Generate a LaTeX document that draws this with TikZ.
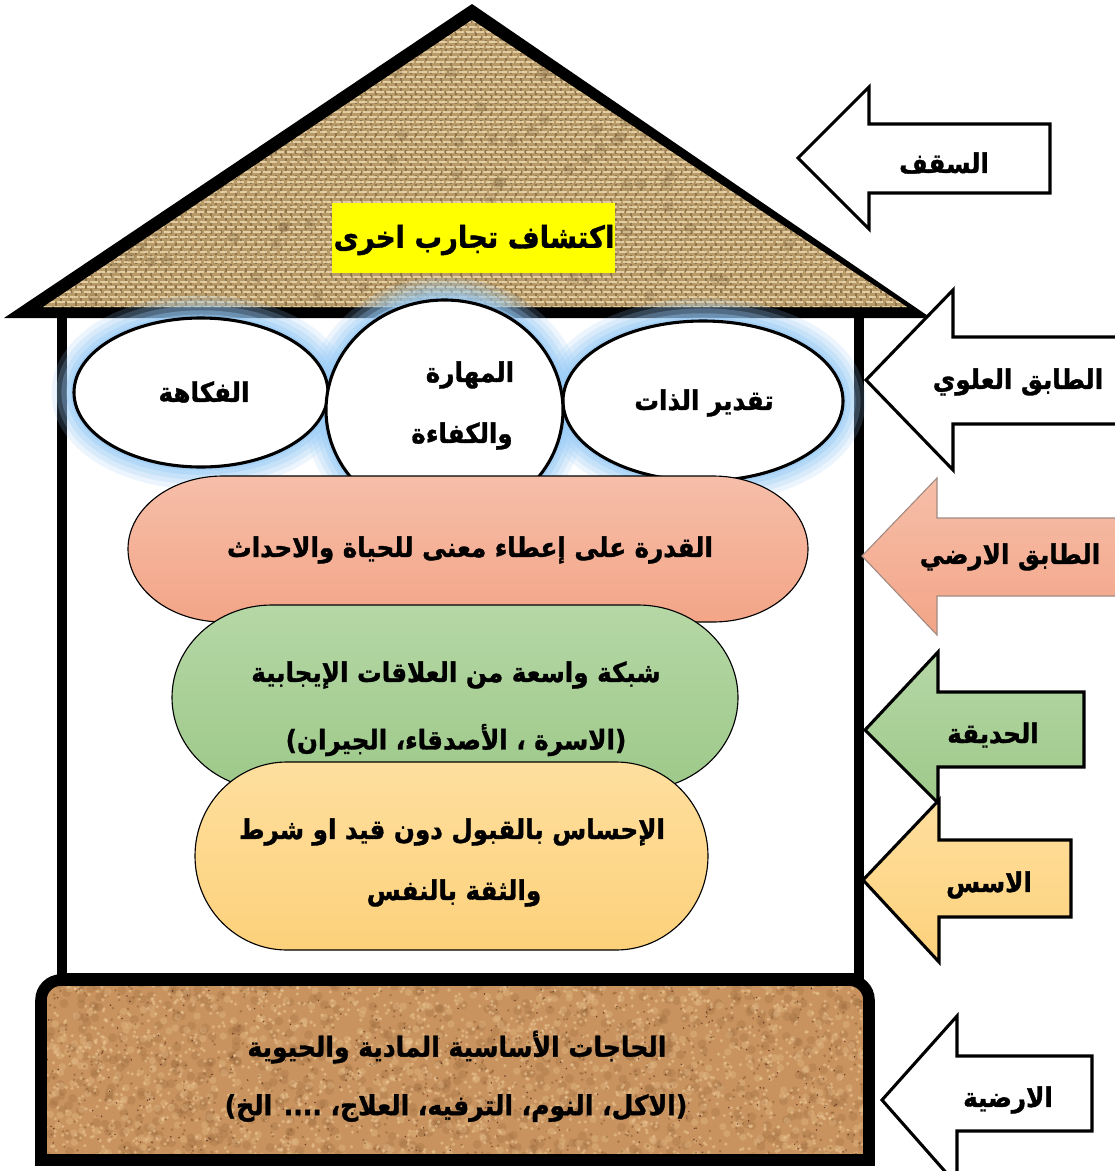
\documentclass[tikz,border=0pt]{standalone}
\usepackage{fontspec}
\newfontfamily\arfont[Script=Arabic, BoldFeatures={FakeBold=1.3}]{DejaVu Sans}
\TeXXeTstate=1

\definecolor{burlap}{HTML}{B89A68}
\definecolor{burlaplight}{HTML}{EEDDB2}
\definecolor{burlapdark}{HTML}{6E5434}
\definecolor{cork}{HTML}{C8935E}
\definecolor{corklight}{HTML}{EDC896}
\definecolor{corkdark}{HTML}{8A5A32}
\definecolor{corkdeep}{HTML}{55291A}
\definecolor{glow}{HTML}{98CBF7}
\definecolor{salmontop}{HTML}{F6BEA9}
\definecolor{salmonbot}{HTML}{F3A587}
\definecolor{greentop}{HTML}{B5D7A5}
\definecolor{greenbot}{HTML}{9EC98A}
\definecolor{yellowtop}{HTML}{FEDF9E}
\definecolor{yellowbot}{HTML}{FDD17B}
\definecolor{signyellow}{HTML}{FFFF00}

% left-pointing block arrow: style, tip x, tip y, head x, head top, head bottom, shaft top, shaft bottom, tail x
\newcommand{\blockarrow}[9]{%
  \draw[#1] (#2,#3) -- (#4,#5) -- (#4,#7) -- (#9,#7) -- (#9,#8) -- (#4,#8) -- (#4,#6) -- cycle;}
% rounded bar with half-elliptic ends: style, left, top, right, bottom, end depth
\newcommand{\roundbar}[6]{%
  \pgfmathsetmacro{\ym}{(#3+#5)/2}%
  \pgfmathsetmacro{\ry}{(#5-#3)/2}%
  \pgfmathsetmacro{\la}{#2+#6}%
  \pgfmathsetmacro{\ra}{#4-#6}%
  \pgfmathsetmacro{\lc}{#2+#6*0.448}%
  \pgfmathsetmacro{\rc}{#4-#6*0.448}%
  \pgfmathsetmacro{\yu}{\ym-\ry*0.552}%
  \pgfmathsetmacro{\yd}{\ym+\ry*0.552}%
  \draw[#1] (\la,#3) -- (\ra,#3) .. controls (\rc,#3) and (#4,\yu) .. (#4,\ym)
    .. controls (#4,\yd) and (\rc,#5) .. (\ra,#5) -- (\la,#5)
    .. controls (\lc,#5) and (#2,\yd) .. (#2,\ym)
    .. controls (#2,\yu) and (\lc,#3) .. (\la,#3) -- cycle;}
% Arabic text, slightly stretched upward
\newcommand{\artext}[1]{\scalebox{1}[1.1]{\beginR #1\endR}}

\begin{document}
\begin{tikzpicture}[x=0.025cm,y=-0.025cm,
  txt/.style={font=\arfont\bfseries\fontsize{17.5}{20}\selectfont, inner sep=0pt, text=black},
  bigtxt/.style={font=\arfont\bfseries\fontsize{19.5}{22}\selectfont, inner sep=0pt, text=black},
  slabtxt/.style={font=\arfont\bfseries\fontsize{17.8}{21}\selectfont, inner sep=0pt, text=black},
  outline/.style={draw=black, line width=2.2pt, line join=miter},
  pill/.style={draw=black, line width=0.8pt},
  oval/.style={draw=black, line width=2.2pt, fill=white}]

\clip (0,0) rectangle (1115,1171);
\fill[white] (0,0) rectangle (1115,1171);

% ---------- walls ----------
\draw[line width=7.8pt] (62,312) rectangle (859,978);

% ---------- roof ----------
\fill[black] (472,4) -- (931,318) -- (4,318) -- cycle;
\begin{scope}
  \clip (472,20) -- (907,307) -- (43,307) -- cycle;
  \fill[burlap] (40,15) rectangle (910,310);
  \foreach \x [count=\i] in {41,46,...,910} {
    \pgfmathsetmacro{\ph}{mod(\i,2)*3}
    \draw[burlapdark, line width=0.9pt, opacity=.55, dash pattern=on 3pt off 3pt, dash phase=\ph pt] (\x,15) -- (\x,310);
  }
  \foreach \y [count=\i] in {17,22,...,308} {
    \pgfmathsetmacro{\ph}{mod(\i,3)*2.2}
    \draw[burlaplight, line width=1.5pt, opacity=.8, dash pattern=on 5.5pt off 1.6pt, dash phase=\ph pt] (40,\y) -- (910,\y);
  }
  \pgfmathsetseed{77}
  \foreach \i in {1,...,160} {
    \pgfmathsetmacro{\ax}{40+870*rnd}
    \pgfmathsetmacro{\ay}{15+295*rnd}
    \fill[burlapdark, opacity=.18] (\ax,\ay) circle (4pt);
  }
\end{scope}

% ---------- caption in the roof ----------
\node[fill=signyellow, minimum width=7.08cm, minimum height=1.76cm, inner sep=0pt] (sign) at (473.5,238) {};
\node[bigtxt] (signtxt) at (474,240) {\artext{اكتشاف تجارب اخرى}};

% ---------- soft blue halo behind the upper floor ----------
\foreach \w/\o in {32/0.18, 25/0.22, 18/0.28, 11/0.38, 5/0.5} {
  \draw[glow, line width=\w pt, opacity=\o] (201,392.5) ellipse [x radius=127, y radius=74.5];
  \draw[glow, line width=\w pt, opacity=\o] (703,401) ellipse [x radius=140, y radius=80];
  \draw[glow, line width=\w pt, opacity=\o] (444.5,410) ellipse [x radius=118.5, y radius=110];
}

% ---------- upper floor ----------
\draw[oval] (201,392.5) ellipse [x radius=127, y radius=74.5];
\draw[oval] (703,401) ellipse [x radius=140, y radius=80];
\draw[oval] (444.5,410) ellipse [x radius=118.5, y radius=110];
\node[txt] (humor) at (204,392) {\artext{الفكاهة}};
\node[txt] (skill1) at (470,375) {\artext{المهارة}};
\node[txt] (skill2) at (462,436) {\artext{والكفاءة}};
\node[txt] (esteem) at (704,403) {\artext{تقدير الذات}};

% ---------- ground floor ----------
\roundbar{pill, top color=salmontop, bottom color=salmonbot}{128}{476}{808}{622}{95}
\node[txt] (meaning) at (470,550) {\artext{القدرة على إعطاء معنى للحياة والاحداث}};

% ---------- garden ----------
\roundbar{pill, top color=greentop, bottom color=greenbot}{172}{605}{738}{790}{100}
\node[txt] (net1) at (456,675) {\artext{شبكة واسعة من العلاقات الإيجابية}};
\node[txt] (net2) at (456,740) {\artext{(الاسرة ، الأصدقاء، الجيران)}};

% ---------- foundations ----------
\roundbar{pill, top color=yellowtop, bottom color=yellowbot}{195}{762}{708}{950}{92}
\node[txt] (accept1) at (452,832) {\artext{الإحساس بالقبول دون قيد او شرط}};
\node[txt] (accept2) at (454,893) {\artext{والثقة بالنفس}};

% ---------- ground slab ----------
\begin{scope}
  \clip (41,1160) -- (41,1000) .. controls (41,989) and (50,980) .. (61,980)
        -- (849,980) .. controls (860,980) and (869,989) .. (869,1000) -- (869,1160) -- cycle;
  \fill[cork] (30,970) rectangle (880,1170);
  \pgfmathsetseed{4242}
  \foreach \i in {1,...,700} {
    \pgfmathsetmacro{\ax}{41+828*rnd}
    \pgfmathsetmacro{\ay}{980+180*rnd}
    \fill[corkdark, opacity=.2] (\ax,\ay) circle (3.2pt);
  }
  \foreach \i in {1,...,600} {
    \pgfmathsetmacro{\ax}{41+828*rnd}
    \pgfmathsetmacro{\ay}{980+180*rnd}
    \fill[corklight, opacity=.3] (\ax,\ay) circle (2.6pt);
  }
  \foreach \i in {1,...,1600} {
    \pgfmathsetmacro{\ax}{41+828*rnd}
    \pgfmathsetmacro{\ay}{980+180*rnd}
    \fill[corklight, opacity=.55] (\ax,\ay) circle (1.3pt);
  }
  \foreach \i in {1,...,700} {
    \pgfmathsetmacro{\ax}{41+828*rnd}
    \pgfmathsetmacro{\ay}{980+180*rnd}
    \fill[corkdark, opacity=.5] (\ax,\ay) circle (1pt);
  }
  \foreach \i in {1,...,250} {
    \pgfmathsetmacro{\ax}{41+828*rnd}
    \pgfmathsetmacro{\ay}{980+180*rnd}
    \fill[corkdeep, opacity=.8] (\ax,\ay) circle (0.6pt);
  }
\end{scope}
\draw[line width=8.2pt] (41,1160) -- (41,1000) .. controls (41,989) and (50,980) .. (61,980)
      -- (849,980) .. controls (860,980) and (869,989) .. (869,1000) -- (869,1160) -- cycle;
\node[slabtxt] (needs1) at (457,1047) {\artext{الحاجات الأساسية المادية والحيوية}};
\node[slabtxt] (needs2) at (456,1108) {\artext{(الاكل، النوم، الترفيه، العلاج، .... الخ)}};

% ---------- labels on the right ----------
\blockarrow{outline, fill=white}{798}{158}{869}{87}{229}{124}{193}{1050}
\node[txt] (roofl) at (944,163) {\artext{السقف}};

\blockarrow{outline, fill=white}{866}{380}{953}{290}{470}{337}{424}{1130}
\node[txt] (upperl) at (1018,382) {\artext{الطابق العلوي}};

\blockarrow{draw=gray!70!salmonbot, line width=0.8pt, top color=salmontop, bottom color=salmonbot}{862}{556}{937}{478}{635}{518}{596}{1130}
\node[txt] (groundl) at (1010,557) {\artext{الطابق الارضي}};

\blockarrow{outline, top color=greentop, bottom color=greenbot}{865}{730}{938}{652}{803}{692}{767}{1084}
\node[txt] (gardenl) at (993,735) {\artext{الحديقة}};

\blockarrow{outline, top color=yellowtop, bottom color=yellowbot}{863}{880}{939}{800}{962}{840}{917}{1071}
\node[txt] (basel) at (989,885) {\artext{الاسس}};

\blockarrow{outline, fill=white}{882}{1100}{957}{1016}{1185}{1056}{1131}{1092}
\node[txt] (floorl) at (1008,1100) {\artext{الارضية}};

\end{tikzpicture}
\end{document}
